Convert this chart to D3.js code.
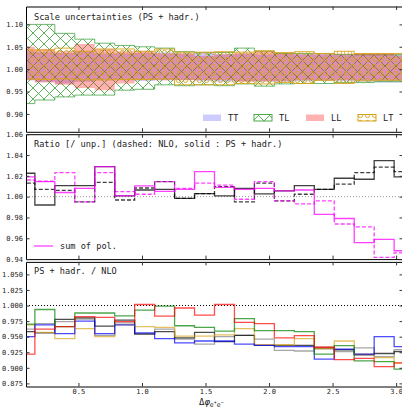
<!DOCTYPE html>
<html>
<head>
<meta charset="utf-8">
<script src="https://cdn.jsdelivr.net/npm/d3@7"></script>
<style>
  body { margin: 0; background: #fff; }
  svg text { font-family: "DejaVu Sans Mono", monospace; fill: #222; }
</style>
</head>
<body>
<div id="chart"></div>
<script>
// bins in delta phi: 20 equal bins of pi/20
const binEdges = d3.range(21).map(k => k * Math.PI / 20);

// top panel: scale uncertainty bands (low / high) per bin
const ttLow  = [0.975,0.972,0.968,0.972,0.975,0.975,0.974,0.975,0.976,0.974,0.972,0.973,0.972,0.972,0.973,0.974,0.973,0.972,0.970,0.970];
const ttHigh = [1.040,1.038,1.036,1.040,1.035,1.035,1.036,1.038,1.035,1.036,1.034,1.034,1.033,1.034,1.035,1.034,1.034,1.034,1.034,1.034];
const tlLow  = [0.923,0.931,0.938,0.942,0.942,0.953,0.955,0.965,0.963,0.965,0.963,0.967,0.962,0.967,0.968,0.968,0.970,0.970,0.972,0.972];
const tlHigh = [1.100,1.100,1.080,1.067,1.058,1.053,1.050,1.047,1.039,1.037,1.037,1.047,1.040,1.035,1.035,1.035,1.033,1.032,1.032,1.032];
const llLow  = [0.975,0.970,0.965,0.958,0.953,0.968,0.975,0.975,0.975,0.975,0.975,0.972,0.973,0.973,0.975,0.975,0.975,0.975,0.975,0.975];
const llHigh = [1.050,1.045,1.040,1.056,1.045,1.040,1.040,1.035,1.035,1.030,1.033,1.036,1.040,1.035,1.033,1.033,1.032,1.036,1.036,1.030];
const ltLow  = [0.978,0.977,0.978,0.976,0.976,0.977,0.977,0.978,0.965,0.965,0.965,0.968,0.967,0.970,0.968,0.975,0.968,0.974,0.975,0.975];
const ltHigh = [1.043,1.043,1.047,1.040,1.045,1.045,1.040,1.045,1.038,1.038,1.039,1.038,1.041,1.037,1.039,1.035,1.040,1.035,1.035,1.035];

// middle panel: ratio to unpolarized
const unpShower = [1.0225,0.992,1.0106,1.0106,1.0289,1.0007,1.0064,1.007,0.9984,1.003,1.0007,1.008,1.0026,1.0055,1.0106,1.007,1.0177,1.0167,1.0346,1.019];
const unpNlo    = [1.0129,1.007,1.006,0.995,1.0138,0.9968,1.0083,1.0145,0.9984,1.003,1.0096,0.995,1.013,0.9959,1.0023,1.007,1.012,1.023,1.0283,1.024];
const sumShower = [1.019,1.0145,1.004,1.008,1.0289,1.001,1.0103,1.005,1.007,1.024,1.009,1.007,1.008,1.0055,1.0064,0.983,0.979,0.9558,0.959,0.948];
const sumNlo    = [1.016,1.015,1.023,0.995,1.023,1.0048,1.0023,1.0145,1.008,1.0129,1.011,0.9975,1.0145,0.996,0.993,0.996,0.9737,0.971,0.9417,0.946];

// bottom panel: PS + hadr. / NLO per polarization
const rTT  = [0.950,0.969,0.955,0.975,0.955,0.969,0.956,0.947,0.940,0.943,0.943,0.938,0.936,0.934,0.934,0.914,0.930,0.922,0.950,0.934];
const rTL  = [0.970,0.9936,0.966,0.988,0.988,0.9835,0.9926,0.999,0.9675,0.965,0.959,0.979,0.9596,0.9596,0.958,0.922,0.9356,0.911,0.910,0.898];
const rLL  = [0.922,0.962,0.966,0.982,0.981,0.974,1.0016,0.983,0.996,0.9846,1.0016,0.973,0.971,0.948,0.9516,0.933,0.913,0.915,0.902,0.908];
const rLT  = [0.969,0.957,0.947,0.963,0.950,0.969,0.966,0.965,0.951,0.951,0.953,0.963,0.937,0.937,0.947,0.931,0.943,0.922,0.9165,0.9075];
const rUnp = [0.958,0.956,0.9776,0.980,0.967,0.9766,0.954,0.958,0.948,0.957,0.942,0.952,0.936,0.936,0.936,0.931,0.929,0.921,0.923,0.926];
const rSum = [0.962,0.971,0.974,0.978,0.952,0.972,0.955,0.962,0.946,0.938,0.950,0.952,0.946,0.928,0.927,0.933,0.926,0.932,0.918,0.929];

const xTicks = [0.5, 1.0, 1.5, 2.0, 2.5, 3.0];
const yTicks1 = [0.90, 0.95, 1.00, 1.05, 1.10];
const yTicks2 = [0.94, 0.96, 0.98, 1.00, 1.02, 1.04, 1.06];
const yTicks3 = [0.875, 0.900, 0.925, 0.950, 0.975, 1.000, 1.025, 1.050];

const W = 402, H = 408;
const svg = d3.select("#chart").append("svg")
    .attr("width", W).attr("height", H);

const defs = svg.append("defs");

// 'x' hatch for TL
const px = defs.append("pattern").attr("id", "hatchX")
    .attr("patternUnits", "userSpaceOnUse").attr("width", 11).attr("height", 11);
px.append("path").attr("d", "M0,0L11,11M11,0L0,11M-1,10L1,12M10,-1L12,1")
    .attr("stroke", "#4aa84a").attr("stroke-width", 0.9).attr("fill", "none");

// 'o' hatch for LT
const po = defs.append("pattern").attr("id", "hatchO")
    .attr("patternUnits", "userSpaceOnUse").attr("width", 7).attr("height", 7);
po.append("circle").attr("cx", 3.5).attr("cy", 3.5).attr("r", 2.1)
    .attr("stroke", "#d9a21b").attr("stroke-width", 0.9).attr("fill", "none");

const x = d3.scaleLinear().domain([Math.PI / 36, Math.PI - Math.PI / 36]).range([26, 403]);

const panels = [
    { top: 6.5, bottom: 131.8, domain: [0.86, 1.14], ticks: yTicks1, fmt: d3.format(".2f") },
    { top: 134.2, bottom: 259.1, domain: [0.94, 1.06], ticks: yTicks2, fmt: d3.format(".2f") },
    { top: 261.9, bottom: 386.5, domain: [0.87, 1.07], ticks: yTicks3, fmt: d3.format(".3f") }
];

panels.forEach((p, i) => {
    p.y = d3.scaleLinear().domain(p.domain).range([p.bottom, p.top]);
    defs.append("clipPath").attr("id", "clip" + i)
        .append("rect").attr("x", x.range()[0]).attr("y", p.top)
        .attr("width", x.range()[1] - x.range()[0]).attr("height", p.bottom - p.top);
    p.g = svg.append("g");
    p.plot = p.g.append("g").attr("clip-path", `url(#clip${i})`);
});

const stepPts = vals => vals.map((v, i) => [binEdges[i], v]).concat([[binEdges[20], vals[19]]]);

const bandPath = (p, lo, hi) => d3.area()
    .x(d => x(d[0]))
    .y0(d => p.y(d[1]))
    .y1(d => p.y(d[2]))
    .curve(d3.curveStepAfter)(stepPts(lo).map((d, i) => [d[0], d[1], stepPts(hi)[i][1]]));

const linePath = (p, vals) => d3.line()
    .x(d => x(d[0]))
    .y(d => p.y(d[1]))
    .curve(d3.curveStepAfter)(stepPts(vals));

// ---- top panel ----
const p1 = panels[0];
p1.plot.append("path").attr("d", bandPath(p1, ttLow, ttHigh))
    .attr("fill", "#0000ff").attr("fill-opacity", 0.2);
p1.plot.append("path").attr("d", bandPath(p1, tlLow, tlHigh))
    .attr("fill", "url(#hatchX)").attr("stroke", "#4aa84a").attr("stroke-opacity", 0.8).attr("stroke-width", 1);
p1.plot.append("path").attr("d", bandPath(p1, llLow, llHigh))
    .attr("fill", "#ff0000").attr("fill-opacity", 0.3);
p1.plot.append("path").attr("d", bandPath(p1, ltLow, ltHigh))
    .attr("fill", "url(#hatchO)").attr("stroke", "#d9a21b").attr("stroke-opacity", 0.9).attr("stroke-width", 1);

// legend of top panel
const legend1 = [
    { label: "TT", x: 203, fill: "#0000ff", op: 0.2 },
    { label: "TL", x: 254, fill: "url(#hatchX)", stroke: "#4aa84a" },
    { label: "LL", x: 306, fill: "#ff0000", op: 0.3 },
    { label: "LT", x: 358, fill: "url(#hatchO)", stroke: "#d9a21b" }
];
legend1.forEach(d => {
    p1.g.append("rect").attr("x", d.x).attr("y", 114.5).attr("width", 18).attr("height", 6.5)
        .attr("fill", d.fill).attr("fill-opacity", d.op || 1)
        .attr("stroke", d.stroke || "none").attr("stroke-width", 1);
    p1.g.append("text").attr("x", d.x + 25).attr("y", 121).attr("font-size", 8.6).text(d.label);
});
p1.g.append("text").attr("x", 34).attr("y", 19.5).attr("font-size", 8.6)
    .text("Scale uncertainties (PS + hadr.)");

// ---- middle panel ----
const p2 = panels[1];
p2.plot.append("line").attr("x1", x.range()[0]).attr("x2", x.range()[1])
    .attr("y1", p2.y(1)).attr("y2", p2.y(1))
    .attr("stroke", "#999").attr("stroke-width", 1).attr("stroke-dasharray", "1,2");
const mid = [
    { vals: unpNlo, color: "#000", dash: "4,2", op: 0.75 },
    { vals: sumNlo, color: "#ff00ff", dash: "4,2", op: 0.75 },
    { vals: unpShower, color: "#000", dash: null, op: 0.75 },
    { vals: sumShower, color: "#ff00ff", dash: null, op: 0.75 }
];
mid.forEach(d => {
    p2.plot.append("path").attr("d", linePath(p2, d.vals))
        .attr("fill", "none").attr("stroke", d.color).attr("stroke-opacity", d.op)
        .attr("stroke-width", 1.3).attr("stroke-dasharray", d.dash);
});
p2.g.append("text").attr("x", 34).attr("y", 147).attr("font-size", 8.6)
    .text("Ratio [/ unp.] (dashed: NLO, solid : PS + hadr.)");
p2.g.append("line").attr("x1", 34).attr("x2", 53).attr("y1", 246).attr("y2", 246)
    .attr("stroke", "#ff00ff").attr("stroke-opacity", 0.75).attr("stroke-width", 1.3);
p2.g.append("text").attr("x", 60).attr("y", 249).attr("font-size", 8.6).text("sum of pol.");

// ---- bottom panel ----
const p3 = panels[2];
p3.plot.append("line").attr("x1", x.range()[0]).attr("x2", x.range()[1])
    .attr("y1", p3.y(1)).attr("y2", p3.y(1))
    .attr("stroke", "#000").attr("stroke-width", 1).attr("stroke-dasharray", "1,2");
const bot = [
    { vals: rSum, color: "#808080" },
    { vals: rUnp, color: "#000000" },
    { vals: rLT, color: "#daa520" },
    { vals: rTT, color: "#0000ff" },
    { vals: rTL, color: "#008000" },
    { vals: rLL, color: "#ff0000" }
];
bot.forEach(d => {
    p3.plot.append("path").attr("d", linePath(p3, d.vals))
        .attr("fill", "none").attr("stroke", d.color).attr("stroke-opacity", 0.7)
        .attr("stroke-width", 1.3);
});
p3.g.append("text").attr("x", 34).attr("y", 274).attr("font-size", 8.6)
    .text("PS + hadr. / NLO");

// ---- axes and frames ----
panels.forEach((p, i) => {
    const isLast = i === panels.length - 1;
    p.g.append("g").attr("transform", `translate(0,${p.bottom})`)
        .call(d3.axisBottom(x).tickValues(xTicks).tickSizeInner(-3.5).tickSizeOuter(0)
            .tickFormat(isLast ? d3.format(".1f") : ""));
    p.g.append("g").attr("transform", `translate(0,${p.top})`)
        .call(d3.axisTop(x).tickValues(xTicks).tickSizeInner(-3.5).tickSizeOuter(0).tickFormat(""));
    p.g.append("g").attr("transform", `translate(${x.range()[0]},0)`)
        .call(d3.axisLeft(p.y).tickValues(p.ticks).tickSizeInner(-3.5).tickSizeOuter(0).tickFormat(p.fmt));
    p.g.append("g").attr("transform", `translate(${x.range()[1]},0)`)
        .call(d3.axisRight(p.y).tickValues(p.ticks).tickSizeInner(-3.5).tickSizeOuter(0).tickFormat(""));
    p.g.selectAll(".domain").attr("stroke", "#000").attr("stroke-width", 1);
    p.g.selectAll(".tick line").attr("stroke", "#333");
    p.g.selectAll(".tick text").attr("font-size", 7).attr("font-family", "DejaVu Sans Mono").attr("fill", "#333");
});
panels.forEach(p => {
    p.g.selectAll("g.tick text").filter(function () { return this.parentNode.parentNode.getAttribute("transform") === `translate(${x.range()[0]},0)`; })
        .attr("x", -3);
});

// x label
const xl = svg.append("text").attr("x", 199).attr("y", 405).attr("font-size", 9)
    .attr("font-family", "DejaVu Sans");
xl.append("tspan").text("Δ");
xl.append("tspan").attr("font-style", "italic").text("φ");
xl.append("tspan").attr("font-size", 6.5).attr("dy", 2).text("e");
xl.append("tspan").attr("font-size", 5).attr("dy", -3).text("+");
xl.append("tspan").attr("font-size", 6.5).attr("dy", 3).text("e");
xl.append("tspan").attr("font-size", 5).attr("dy", -3).text("−");
</script>
</body>
</html>
